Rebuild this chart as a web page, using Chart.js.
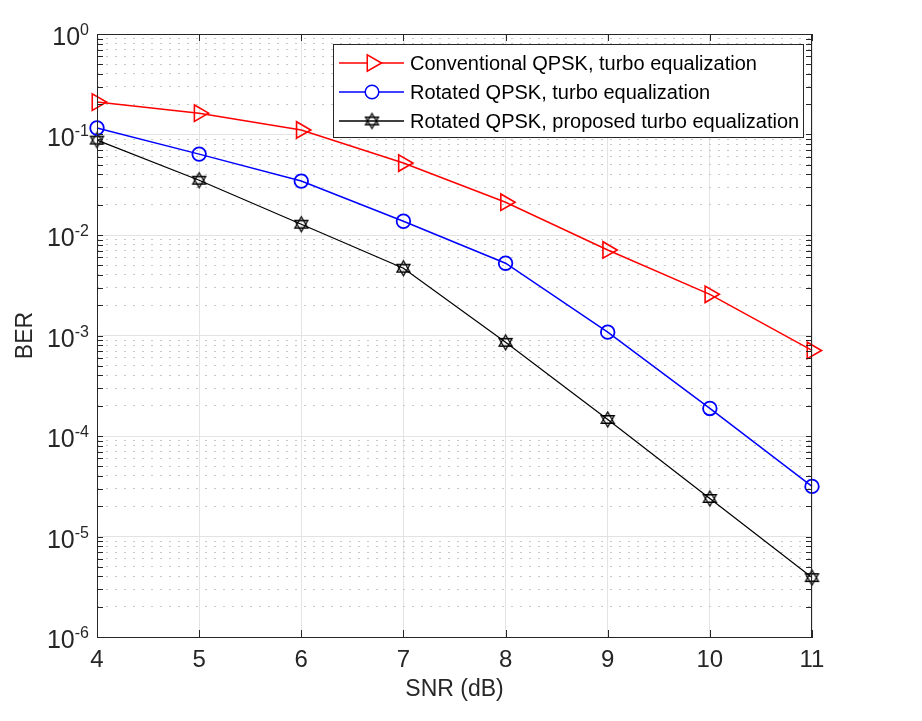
<!DOCTYPE html>
<html>
<head>
<meta charset="utf-8">
<script src="https://cdn.jsdelivr.net/npm/chart.js@4/dist/chart.umd.min.js"></script>
<style>
  html, body { margin: 0; padding: 0; background: #fff; }
  #wrap { width: 922px; height: 721px; }
</style>
</head>
<body>
<div id="wrap"><canvas id="berChart" width="922" height="721"></canvas></div>
<script>
  // ── data ──
  const snr = [4, 5, 6, 7, 8, 9, 10, 11];
  const berConventional = [0.21, 0.163, 0.111, 0.052, 0.0212, 0.0071, 0.00257, 0.00071];
  const berRotated = [0.116, 0.0638, 0.0344, 0.0137, 0.00524, 0.00108, 0.000188, 0.0000315];
  const berProposed = [0.088, 0.0351, 0.0128, 0.00467, 0.000855, 0.000146, 0.0000239, 0.0000039];
  const seriesLabels = [
    'Conventional QPSK, turbo equalization',
    'Rotated QPSK, turbo equalization',
    'Rotated QPSK, proposed turbo equalization'
  ];
  const seriesColors = ['#ff0000', '#0000ff', '#000000'];
  const yDecadeExponents = [-6, -5, -4, -3, -2, -1, 0];
  const xTickValues = [4, 5, 6, 7, 8, 9, 10, 11];

  const AXIS = '#262626';
  const FONT = '"Liberation Sans", Arial, sans-serif';

  // hexagram marker (two triangles)
  function makeHexagram(r, color) {
    const c = document.createElement('canvas');
    c.width = c.height = Math.ceil(r * 2 + 4);
    const g = c.getContext('2d');
    const cx = c.width / 2, cy = c.height / 2;
    g.strokeStyle = color;
    g.lineWidth = 1.3;
    [-Math.PI / 2, Math.PI / 2].forEach(a0 => {
      g.beginPath();
      for (let k = 0; k < 3; k++) {
        const a = a0 + k * 2 * Math.PI / 3;
        const px = cx + r * Math.cos(a), py = cy + r * Math.sin(a);
        if (k === 0) g.moveTo(px, py); else g.lineTo(px, py);
      }
      g.closePath();
      g.stroke();
    });
    return c;
  }
  const hexagram = makeHexagram(7.5, '#000');

  const decadeValues = yDecadeExponents.map(e => Math.pow(10, e));
  const minorValues = [];
  yDecadeExponents.slice(0, -1).forEach(e => {
    for (let m = 2; m <= 9; m++) minorValues.push(m * Math.pow(10, e));
  });

  // ── plugin: box, inward ticks, y labels, legend ──
  const decorPlugin = {
    id: 'decor',
    afterDraw(chart) {
      const ctx = chart.ctx;
      const a = chart.chartArea;
      const y = chart.scales.y;
      const x = chart.scales.x;
      ctx.save();
      ctx.strokeStyle = AXIS;
      ctx.lineWidth = 1;
      ctx.strokeRect(a.left + 0.5, a.top + 0.5, a.right - a.left - 1, a.bottom - a.top);

      // inward tick marks
      ctx.beginPath();
      decadeValues.concat(minorValues).forEach(v => {
        const py = Math.round(y.getPixelForValue(v)) + 0.5;
        ctx.moveTo(a.left, py); ctx.lineTo(a.left + 6, py);
        ctx.moveTo(a.right, py); ctx.lineTo(a.right - 6, py);
      });
      xTickValues.forEach(v => {
        const px = Math.round(x.getPixelForValue(v)) + 0.5;
        ctx.moveTo(px, a.bottom); ctx.lineTo(px, a.bottom - 7);
        ctx.moveTo(px, a.top); ctx.lineTo(px, a.top + 7);
      });
      ctx.stroke();

      // y tick labels 10^e
      ctx.fillStyle = AXIS;
      ctx.textBaseline = 'alphabetic';
      yDecadeExponents.forEach(e => {
        const py = y.getPixelForValue(Math.pow(10, e));
        const expStr = String(e);
        ctx.font = '16px ' + FONT;
        const ew = ctx.measureText(expStr).width;
        ctx.textAlign = 'left';
        const right = 89;
        ctx.fillText(expStr, right - ew, py + 1);
        ctx.font = '25px ' + FONT;
        ctx.textAlign = 'right';
        ctx.fillText('10', right - ew, py + 11);
      });

      // legend
      const lx = 333, ly = 44, lw = 470, lh = 93;
      ctx.fillStyle = '#fff';
      ctx.fillRect(lx, ly, lw, lh);
      ctx.strokeStyle = AXIS;
      ctx.strokeRect(lx + 0.5, ly + 0.5, lw, lh);
      const rows = [63, 92, 121];
      ctx.font = '20px ' + FONT;
      ctx.textAlign = 'left';
      ctx.textBaseline = 'middle';
      chart.data.datasets.forEach((ds, i) => {
        const ry = rows[i];
        ctx.strokeStyle = ds.borderColor;
        ctx.lineWidth = 1.5;
        ctx.beginPath();
        ctx.moveTo(339, ry); ctx.lineTo(404, ry);
        ctx.stroke();
        const mx = 372;
        if (ds.pointStyle === 'triangle') {
          const r = ds.pointRadius;
          ctx.beginPath();
          for (let k = 0; k < 3; k++) {
            const ang = k * 2 * Math.PI / 3;
            const px = mx + r * Math.cos(ang), py = ry + r * Math.sin(ang);
            if (k === 0) ctx.moveTo(px, py); else ctx.lineTo(px, py);
          }
          ctx.closePath();
          ctx.fillStyle = '#fff';
          ctx.fill();
          ctx.stroke();
        } else if (ds.pointStyle === 'circle') {
          ctx.beginPath();
          ctx.arc(mx, ry, ds.pointRadius, 0, Math.PI * 2);
          ctx.fillStyle = '#fff';
          ctx.fill();
          ctx.stroke();
        } else {
          ctx.drawImage(hexagram, mx - hexagram.width / 2, ry - hexagram.height / 2);
        }
        ctx.fillStyle = '#000';
        ctx.fillText(ds.label, 410, ry + 1);
      });
      ctx.restore();
    }
  };

  const toPoints = arr => arr.map((v, i) => ({ x: snr[i], y: v }));

  new Chart(document.getElementById('berChart'), {
    type: 'line',
    data: {
      datasets: [
        {
          label: seriesLabels[0], data: toPoints(berConventional),
          borderColor: seriesColors[0], borderWidth: 1.5,
          pointStyle: 'triangle', rotation: 90, pointRadius: 9.5,
          pointBorderWidth: 1.6, pointBackgroundColor: 'rgba(0,0,0,0)', pointBorderColor: seriesColors[0],
          clip: false
        },
        {
          label: seriesLabels[1], data: toPoints(berRotated),
          borderColor: seriesColors[1], borderWidth: 1.5,
          pointStyle: 'circle', pointRadius: 6.8,
          pointBorderWidth: 1.8, pointBackgroundColor: 'rgba(0,0,0,0)', pointBorderColor: seriesColors[1],
          clip: false
        },
        {
          label: seriesLabels[2], data: toPoints(berProposed),
          borderColor: seriesColors[2], borderWidth: 1.2,
          pointStyle: hexagram, pointRadius: 8,
          clip: false
        }
      ]
    },
    options: {
      responsive: false,
      animation: false,
      layout: { padding: { top: 34, right: 110, left: 0, bottom: 0 } },
      plugins: { legend: { display: false }, tooltip: { enabled: false } },
      scales: {
        x: {
          type: 'linear', min: 4, max: 11,
          afterBuildTicks: s => { s.ticks = xTickValues.map(v => ({ value: v })); },
          afterFit: s => { s.height = 84; },
          grid: { color: '#e3e3e3', lineWidth: 1, drawTicks: false },
          border: { color: AXIS, width: 1 },
          ticks: { color: AXIS, font: { family: FONT, size: 24 }, padding: 9 },
          title: { display: true, text: 'SNR (dB)', color: AXIS, font: { family: FONT, size: 23 }, padding: { top: 18, bottom: 18 } }
        },
        y: {
          type: 'logarithmic', min: 1e-6, max: 1, position: 'left',
          afterBuildTicks: s => { s.ticks = decadeValues.map(v => ({ value: v, major: true })); },
          afterFit: s => { s.width = 97; },
          grid: { color: '#e3e3e3', lineWidth: 1, drawTicks: false },
          border: { color: AXIS, width: 1 },
          ticks: { display: false },
          title: { display: true, text: 'BER', color: AXIS, font: { family: FONT, size: 23 }, padding: { top: 12, bottom: 9 } }
        },
        yMinor: {
          type: 'logarithmic', min: 1e-6, max: 1, position: 'left',
          afterBuildTicks: s => { s.ticks = minorValues.map(v => ({ value: v })); },
          afterFit: s => { s.width = 0; },
          grid: { color: '#c8c8c8', lineWidth: 1, drawTicks: false },
          border: { display: false, dash: [2, 7] },
          ticks: { display: false }
        }
      }
    },
    plugins: [decorPlugin]
  });
</script>
</body>
</html>
